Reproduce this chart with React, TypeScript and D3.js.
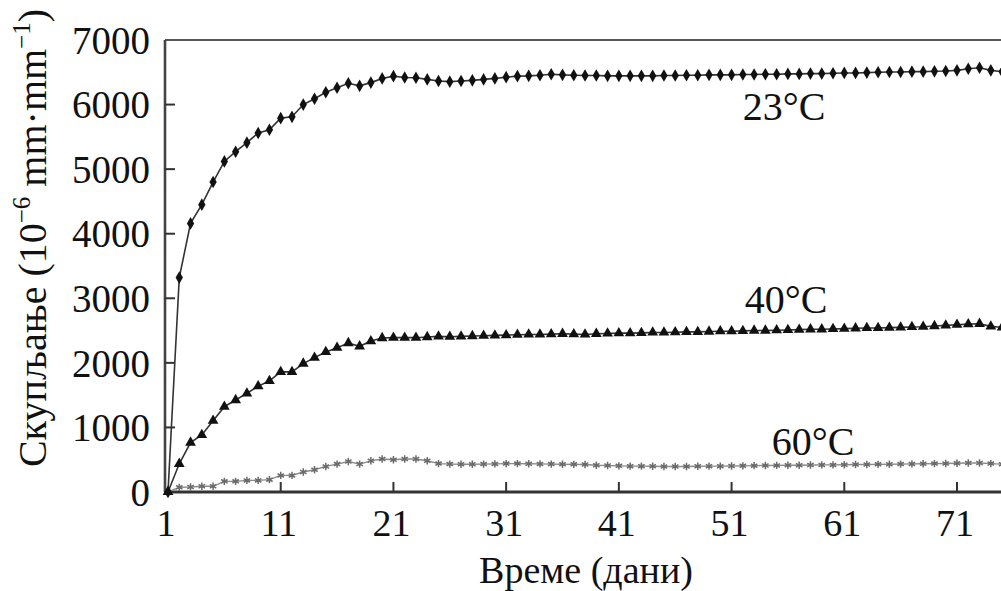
import React from "react";
import * as d3 from "d3";

// ---- data ----
const xTickValues = [1, 11, 21, 31, 41, 51, 61, 71];
const yTickValues = [0, 1000, 2000, 3000, 4000, 5000, 6000, 7000];

const shrink23 = [
  0, 3320, 4160, 4450, 4800, 5120, 5270, 5410, 5560, 5610,
  5790, 5810, 6000, 6090, 6190, 6260, 6330, 6290, 6340, 6405,
  6440, 6420, 6415, 6390, 6365, 6355, 6365, 6375, 6390, 6405,
  6425, 6440, 6445, 6455, 6470, 6460, 6455, 6450, 6450, 6445,
  6445, 6445, 6445, 6445, 6450, 6450, 6455, 6455, 6460, 6460,
  6460, 6465, 6465, 6470, 6470, 6475, 6475, 6480, 6480, 6485,
  6490, 6490, 6495, 6500, 6505, 6505, 6510, 6510, 6515, 6520,
  6530, 6555, 6570, 6530, 6510,
];

const shrink40 = [
  0, 437, 766, 884, 1105, 1321, 1424, 1527, 1639, 1721,
  1860, 1860, 1989, 2081, 2168, 2235, 2307, 2256, 2337, 2384,
  2390, 2390, 2390, 2400, 2410, 2405, 2410, 2415, 2420, 2425,
  2430, 2435, 2440, 2440, 2445, 2450, 2445, 2440, 2450, 2455,
  2460, 2460, 2465, 2470, 2470, 2475, 2480, 2480, 2485, 2490,
  2490, 2495, 2500, 2500, 2505, 2510, 2515, 2520, 2520, 2525,
  2530, 2535, 2540, 2540, 2545, 2550, 2555, 2560, 2570, 2580,
  2590, 2600, 2605, 2565, 2550,
];

const shrink60 = [
  0, 72, 78, 88, 88, 165, 165, 180, 180, 191,
  257, 257, 309, 345, 396, 432, 473, 432, 483, 510,
  499, 510, 510, 483, 440, 432, 430, 430, 432, 435,
  440, 440, 438, 435, 432, 430, 428, 425, 415, 410,
  405, 400, 400, 398, 395, 395, 395, 398, 400, 400,
  402, 405, 408, 410, 412, 415, 415, 418, 420, 420,
  422, 425, 425, 428, 430, 432, 435, 438, 440, 442,
  445, 448, 450, 440, 430,
];

const seriesLabels = ["23°C", "40°C", "60°C"];

const W = 1001;
const H = 591;
const FONT = '"Liberation Serif", "DejaVu Serif", serif';

export default function App() {
  const x = d3.scaleLinear().domain([1, 71]).range([168, 957]);
  const y = d3.scaleLinear().domain([0, 7000]).range([492, 40]);

  const toPts = (vals: number[]) => vals.map((v, i) => [i + 1, v] as [number, number]);
  const line = d3
    .line<[number, number]>()
    .x((d) => x(d[0]))
    .y((d) => y(d[1]));

  const diamond = d3.symbol().type(d3.symbolDiamond).size(46)()!;
  const triangle = d3.symbol().type(d3.symbolTriangle).size(50)()!;
  const aster = d3.symbol().type(d3.symbolAsterisk).size(38)()!;

  const p23 = toPts(shrink23);
  const p40 = toPts(shrink40);
  const p60 = toPts(shrink60);

  const axisLeft = 165;
  const axisBottom = y(0);
  const top = y(7000);
  const ts: React.CSSProperties = { fontFamily: FONT };

  return (
    <div style={{ position: "absolute", left: 0, top: 0, width: W, height: H, overflow: "hidden", background: "#fff" }}>
      <svg width={W} height={H} style={{ display: "block", fontFamily: FONT }}>
        <defs>
          <clipPath id="plotClip">
            <rect x={axisLeft - 10} y={0} width={W} height={H} />
          </clipPath>
        </defs>
        {/* frame */}
        <line x1={axisLeft} x2={W + 10} y1={top} y2={top} stroke="#555" strokeWidth={2.2} />
        <line x1={axisLeft} x2={axisLeft} y1={top} y2={axisBottom} stroke="#444" strokeWidth={2.6} />
        <line x1={axisLeft - 1} x2={W + 10} y1={axisBottom} y2={axisBottom} stroke="#333" strokeWidth={3} />

        {/* y ticks */}
        {yTickValues.map((t) => (
          <g key={"y" + t}>
            {t > 0 && t < 7000 && (
              <line x1={axisLeft} x2={axisLeft + 10} y1={y(t)} y2={y(t)} stroke="#333" strokeWidth={2} />
            )}
            <text x={150} y={y(t)} dy="0.35em" textAnchor="end" fontSize={39} fill="#111" style={ts}>
              {t}
            </text>
          </g>
        ))}

        {/* x ticks */}
        {xTickValues.map((t) => (
          <g key={"x" + t}>
            {t > 1 && (
              <line x1={x(t)} x2={x(t)} y1={axisBottom} y2={axisBottom - 10} stroke="#333" strokeWidth={2} />
            )}
            <text x={x(t) - 2} y={536} textAnchor="middle" fontSize={38} fill="#111" style={ts}>
              {t}
            </text>
          </g>
        ))}

        <g clipPath="url(#plotClip)">
          {/* 60 °C */}
          <path d={line(p60)!} fill="none" stroke="#8a8a8a" strokeWidth={1.4} />
          {p60.map((d, i) => (
            <path key={"m60" + i} d={aster} transform={`translate(${x(d[0])},${y(d[1])})`} fill="none" stroke="#6a6a6a" strokeWidth={1.5} />
          ))}
          {/* 40 °C */}
          <path d={line(p40)!} fill="none" stroke="#333" strokeWidth={1.6} />
          {p40.map((d, i) => (
            <path key={"m40" + i} d={triangle} transform={`translate(${x(d[0])},${y(d[1])})`} fill="#111" />
          ))}
          {/* 23 °C */}
          <path d={line(p23)!} fill="none" stroke="#333" strokeWidth={1.6} />
          {p23.map((d, i) => (
            <path key={"m23" + i} d={diamond} transform={`translate(${x(d[0])},${y(d[1])})`} fill="#111" />
          ))}
        </g>

        {/* series labels */}
        <text x={784} y={120} textAnchor="middle" fontSize={40} fill="#111" style={ts}>{seriesLabels[0]}</text>
        <text x={786} y={313} textAnchor="middle" fontSize={40} fill="#111" style={ts}>{seriesLabels[1]}</text>
        <text x={813} y={455} textAnchor="middle" fontSize={40} fill="#111" style={ts}>{seriesLabels[2]}</text>

        {/* axis titles */}
        <text x={586} y={583} textAnchor="middle" fontSize={38} fill="#111" style={ts}>Време (дани)</text>
        <text transform="translate(46,238) rotate(-90)" textAnchor="middle" fontSize={40} fill="#111" style={ts}>
          <tspan>Скупљање (10</tspan>
          <tspan fontSize={25} dy={-16}>−6</tspan>
          <tspan dy={16}> mm·mm</tspan>
          <tspan fontSize={25} dy={-16}>−1</tspan>
          <tspan dy={16}>)</tspan>
        </text>
      </svg>
    </div>
  );
}
